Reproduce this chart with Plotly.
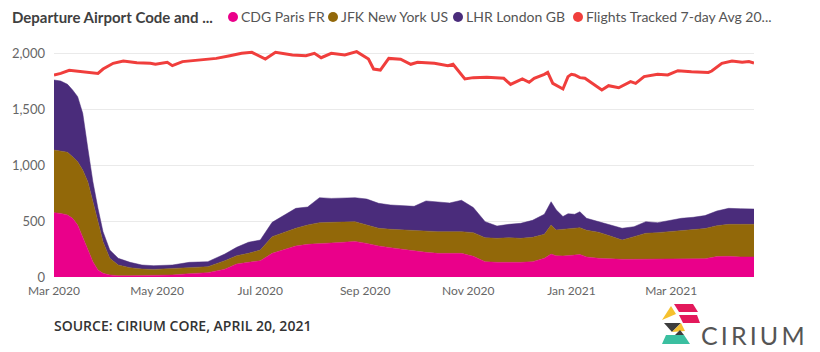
import plotly.graph_objects as go

# ---------------- data ----------------
dates = [
    "2020-03-01", "2020-03-05", "2020-03-09", "2020-03-12", "2020-03-15", "2020-03-18",
    "2020-03-21", "2020-03-24", "2020-03-27", "2020-03-30", "2020-04-03", "2020-04-08",
    "2020-04-15", "2020-04-22", "2020-04-29", "2020-05-10", "2020-05-20", "2020-05-31",
    "2020-06-10", "2020-06-17", "2020-06-24", "2020-07-01", "2020-07-08", "2020-07-15",
    "2020-07-22", "2020-07-29", "2020-08-05", "2020-08-12", "2020-08-19", "2020-08-26",
    "2020-09-02", "2020-09-09", "2020-09-16", "2020-09-23", "2020-09-30", "2020-10-07",
    "2020-10-14", "2020-10-21", "2020-10-28", "2020-11-04", "2020-11-11", "2020-11-18",
    "2020-11-25", "2020-12-02", "2020-12-09", "2020-12-16", "2020-12-20", "2020-12-23",
    "2020-12-27", "2020-12-30", "2021-01-03", "2021-01-06", "2021-01-10", "2021-01-17",
    "2021-01-24", "2021-01-31", "2021-02-07", "2021-02-14", "2021-02-21", "2021-02-28",
    "2021-03-07", "2021-03-14", "2021-03-21", "2021-03-28", "2021-04-04", "2021-04-11",
    "2021-04-19",
]
cdg = [574, 568, 554, 524, 464, 360, 256, 137, 63, 33, 18, 12,
       12, 12, 12, 18, 30, 39, 70, 116, 131, 145, 211, 241,
       277, 292, 301, 304, 310, 318, 300, 277, 262, 247, 232, 220,
       211, 211, 211, 185, 137, 131, 128, 131, 137, 167, 205, 190,
       188, 190, 196, 202, 179, 167, 161, 158, 158, 158, 158, 158,
       158, 161, 164, 182, 185, 179, 179]
jfk = [560, 557, 559, 550, 566, 595, 595, 536, 431, 282, 149, 95,
       71, 59, 56, 59, 53, 53, 75, 74, 80, 95, 149, 158,
       158, 172, 184, 184, 181, 176, 164, 158, 164, 173, 185, 191,
       194, 194, 194, 211, 214, 214, 223, 214, 217, 214, 259, 230,
       238, 235, 239, 238, 238, 232, 205, 172, 202, 232, 238, 247,
       259, 262, 268, 276, 285, 291, 291]
lhr = [625, 625, 607, 596, 580, 506, 298, 178, 119, 90, 74, 60,
       48, 36, 33, 30, 48, 45, 60, 75, 99, 90, 128, 149,
       178, 161, 223, 214, 211, 214, 232, 223, 217, 217, 214, 268,
       268, 256, 280, 224, 143, 110, 119, 134, 152, 179, 208, 180,
       114, 140, 125, 143, 107, 95, 98, 105, 89, 104, 89, 98,
       107, 110, 116, 131, 143, 140, 137]

red_dates = [
    "2020-03-01", "2020-03-05", "2020-03-10", "2020-03-18", "2020-03-27", "2020-03-30",
    "2020-04-05", "2020-04-11", "2020-04-19", "2020-04-27", "2020-04-30", "2020-05-07",
    "2020-05-10", "2020-05-16", "2020-05-26", "2020-06-05", "2020-06-13", "2020-06-20",
    "2020-06-26", "2020-07-04", "2020-07-10", "2020-07-20", "2020-07-28", "2020-08-02",
    "2020-08-06", "2020-08-12", "2020-08-20", "2020-08-27", "2020-09-03", "2020-09-06",
    "2020-09-10", "2020-09-15", "2020-09-22", "2020-09-28", "2020-10-02", "2020-10-12",
    "2020-10-20", "2020-10-23", "2020-10-30", "2020-11-04", "2020-11-12", "2020-11-22",
    "2020-11-26", "2020-11-30", "2020-12-03", "2020-12-07", "2020-12-10", "2020-12-16",
    "2020-12-18", "2020-12-21", "2020-12-25", "2020-12-27", "2020-12-30", "2021-01-01",
    "2021-01-03", "2021-01-06", "2021-01-09", "2021-01-13", "2021-01-19", "2021-01-23",
    "2021-01-29", "2021-02-05", "2021-02-08", "2021-02-13", "2021-02-21", "2021-02-27",
    "2021-03-05", "2021-03-13", "2021-03-23", "2021-03-25", "2021-03-31", "2021-04-06",
    "2021-04-12", "2021-04-16", "2021-04-19",
]
red_vals = [
    1804, 1818, 1845, 1833, 1818, 1857, 1908, 1929, 1914, 1908, 1899, 1917,
    1887, 1923, 1938, 1952, 1976, 1997, 2006, 1946, 2006, 1982, 1976, 1997,
    1958, 1997, 1982, 2012, 1946, 1857, 1848, 1952, 1945, 1899, 1917, 1908,
    1887, 1899, 1768, 1780, 1783, 1774, 1720, 1750, 1768, 1738, 1774, 1810,
    1827, 1729, 1699, 1679, 1789, 1810, 1804, 1780, 1774, 1735, 1670, 1708,
    1690, 1744, 1729, 1789, 1810, 1804, 1842, 1833, 1827, 1839, 1908, 1929,
    1917, 1923, 1910,
]

series_names = ["CDG Paris FR", "JFK New York US", "LHR London GB",
                "Flights Tracked 7-day Avg 20..."]
legend_title = "Departure Airport Code and ..."
source_text = "SOURCE: CIRIUM CORE, APRIL 20, 2021"
y_ticks = [0, 500, 1000, 1500, 2000]

# ---------------- styling ----------------
C_CDG = "#EA008A"
C_JFK = "#926809"
C_LHR = "#4A2C7B"
C_RED = "#F03E3C"
FONT = "Lato, 'Open Sans', sans-serif"

W, H = 820, 352
ML, MR, MT, MB = 54, 66, 46, 75
PW, PH = W - ML - MR, H - MT - MB


def px(x):
    return (x - ML) / PW


def py(y):
    return (H - MB - y) / PH


fig = go.Figure()
for name, vals, col in [(series_names[0], cdg, C_CDG),
                        (series_names[1], jfk, C_JFK),
                        (series_names[2], lhr, C_LHR)]:
    fig.add_trace(go.Scatter(
        x=dates, y=vals, name=name, mode="lines", stackgroup="airports",
        line=dict(width=0.5, color=col), fillcolor=col, showlegend=False,
    ))

fig.add_trace(go.Scatter(
    x=red_dates, y=red_vals, name=series_names[3], mode="lines",
    line=dict(width=3, color=C_RED), showlegend=False,
))

# ---------------- legend drawn as annotations ----------------
ann = []
shapes = []
ann.append(dict(text="<b>" + legend_title + "</b>", x=px(10), y=py(17), xref="paper",
                yref="paper", xanchor="left", yanchor="middle", showarrow=False,
                font=dict(family=FONT, size=15, color="#404040")))
leg_items = [(233, C_CDG), (333, C_JFK), (458, C_LHR), (578, C_RED)]
for (cx, col), name in zip(leg_items, series_names):
    shapes.append(dict(type="circle", xref="paper", yref="paper",
                       xsizemode="pixel", ysizemode="pixel",
                       xanchor=px(cx), yanchor=py(17),
                       x0=-5, x1=5, y0=-5, y1=5,
                       fillcolor=col, line=dict(width=0)))
    ann.append(dict(text=name, x=px(cx + 6), y=py(17), xref="paper", yref="paper",
                    xanchor="left", yanchor="middle", showarrow=False,
                    font=dict(family=FONT, size=14, color="#555555")))

ann.append(dict(text=source_text, x=px(52), y=py(325), xref="paper",
                yref="paper", xanchor="left", yanchor="middle", showarrow=False,
                font=dict(family="'Open Sans', sans-serif", size=14, weight=600,
                          color="#333333")))
ann.append(dict(text="C\u2009I\u2009R\u2009I\u2009U\u2009M", x=px(699), y=py(335),
                xref="paper", yref="paper", xanchor="left", yanchor="middle",
                showarrow=False, font=dict(family=FONT, size=25, color="#555555")))

# logo pieces (pixel coordinates)
logo = [
    ([(674, 304), (693, 304), (698, 312), (679, 312)], "#E3195B"),
    ([(662, 320), (671, 306), (676, 314)], "#F6C12E"),
    ([(679, 315), (697, 315), (700, 323), (683, 323)], "#E3195B"),
    ([(664, 323), (681, 323), (672, 332)], "#3D3D3D"),
    ([(672, 332), (681, 323), (685, 331)], "#F6C12E"),
    ([(666, 335), (684, 335), (690, 344), (662, 344)], "#3BBFA0"),
    ([(675, 335), (684, 335), (680, 330)], "#3D3D3D"),
]
for pts, col in logo:
    path = "M " + " L ".join(f"{px(x):.5f},{py(y):.5f}" for x, y in pts) + " Z"
    shapes.append(dict(type="path", xref="paper", yref="paper", path=path,
                       fillcolor=col, line=dict(width=0)))

fig.update_layout(
    width=W, height=H,
    margin=dict(l=ML, r=MR, t=MT, b=MB),
    paper_bgcolor="white", plot_bgcolor="white",
    showlegend=False,
    annotations=ann, shapes=shapes,
    font=dict(family=FONT, color="#666666"),
    xaxis=dict(type="date", range=["2020-03-01", "2021-04-19"],
               tick0="2020-03-01", dtick="M2", tickformat="%b %Y",
               showgrid=False, zeroline=False, showline=False, ticks="",
               ticklabelstandoff=5,
               tickfont=dict(family=FONT, size=12, color="#666666")),
    yaxis=dict(range=[0, 2000 * PH / 224], tickvals=y_ticks, tickformat=",",
               showgrid=True, gridcolor="#EAEAEA", gridwidth=1, zeroline=False,
               showline=False, ticks="", ticklabelstandoff=8,
               tickfont=dict(family=FONT, size=13, color="#666666")),
)

fig.write_html("out.html")
